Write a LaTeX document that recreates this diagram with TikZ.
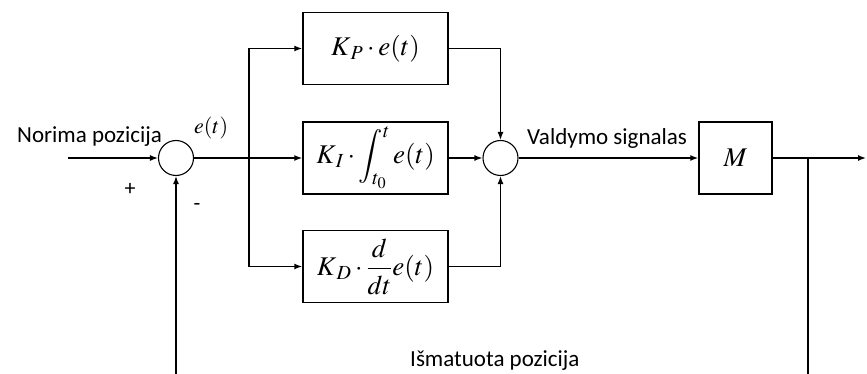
\documentclass[tikz,border=0pt]{standalone}
\usepackage{amsmath}
\usepackage{mathptmx}
\usepackage[no-math]{fontspec}
\setmainfont{Carlito}
\usetikzlibrary{arrows.meta}
\begin{document}
\begin{tikzpicture}[x=1pt,y=-1pt,
  blk/.style={draw,line width=1.5pt,minimum width=145pt,minimum height=72pt,inner sep=0pt},
  sumc/.style={draw,circle,line width=1.1pt,minimum size=35pt,inner sep=0pt},
  wire/.style={line width=1.4pt},
  arr/.style={wire,-{Latex[length=8pt,width=6pt]}},
  lbl/.style={font=\fontsize{23}{27}\selectfont,inner sep=0pt},
  mth/.style={font=\fontsize{27}{32}\selectfont}]
\useasboundingbox (0,0) rectangle (867,374);
% nodes
\node[sumc] (s1) at (176,158) {};
\node[sumc] (s2) at (500.5,158) {};
\node[blk] (kp) at (375.5,48.5) {};
\node[mth] at (kp.center) {$K_{\,P}\cdot e(t)$};
\node[blk] (ki) at (375.5,158) {};
\node[mth] at (ki.center) {$K_{\,I}\cdot\displaystyle\int_{t_0}^{t} e(t)$};
\node[blk] (kd) at (375.5,266.5) {};
\node[mth] at (kd.center) {$K_{\,D}\cdot\displaystyle\frac{d}{dt}e(t)$};
\node[blk,minimum width=73pt] (m) at (735.5,158) {};
\node[mth] at (m.center) {$M$};
\coordinate (in) at (68,158);
\coordinate (out) at (866,158);
\coordinate (br) at (249,158);
\coordinate (fb) at (808,158);
\coordinate (fbb) at (808,374);
\coordinate (fba) at (176,374);
% connectors
\draw[arr] (in) -- (s1.west);
\draw[wire] (s1.east) -- (br);
\draw[arr] (br) -- (ki.west);
\draw[arr] (br) |- (kp.west);
\draw[arr] (br) |- (kd.west);
\draw[arr] (kp.east) -| (s2.north);
\draw[arr] (kd.east) -| (s2.south);
\draw[arr] (ki.east) -- (s2.west);
\draw[arr] (s2.east) -- (m.west);
\draw[arr] (m.east) -- (out);
\draw[wire] (fb) -- (fbb);
\draw[arr] (fba) -- (s1.south);
% labels
\node[lbl,anchor=base west] (l1) at (17,143) {Norima pozicija};
\node[font=\fontsize{22}{26}\selectfont,anchor=base west,inner sep=0pt] (l2) at (194,134) {$e(t)$};
\node[font=\fontsize{22}{26}\selectfont,inner sep=0pt] (l3) at (130,189) {+};
\node[font=\fontsize{22}{26}\selectfont,inner sep=0pt] (l4) at (197,207) {-};
\node[lbl,anchor=base west] (l5) at (527,145) {Valdymo signalas};
\node[lbl,anchor=base west] (l6) at (410,366) {Išmatuota pozicija};
\end{tikzpicture}
\end{document}
